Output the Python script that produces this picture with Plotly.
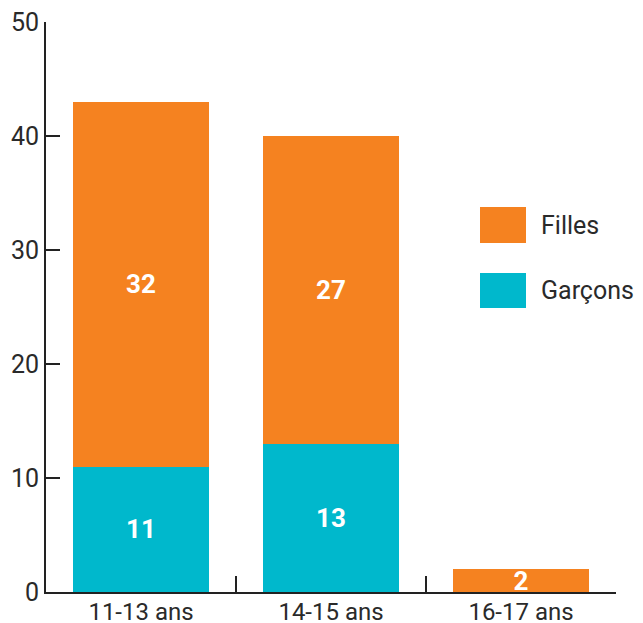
import plotly.graph_objects as go

categories = ["11-13 ans", "14-15 ans", "16-17 ans"]
garcons = [11, 13, 0]
filles = [32, 27, 2]
y_ticks = [0, 10, 20, 30, 40, 50]

orange = "#F58220"
teal = "#00B8CC"

def labels(vals):
    return [str(v) if v else "" for v in vals]

bar_font = dict(family="Roboto", size=26, color="white", weight="bold")

fig = go.Figure()
fig.add_trace(go.Bar(x=categories, y=garcons, name="Garçons", marker=dict(color=teal, line=dict(width=0)),
                     text=labels(garcons), textposition="inside", insidetextanchor="middle",
                     textangle=0, constraintext="none", textfont=bar_font, hoverinfo="skip"))
fig.add_trace(go.Bar(x=categories, y=filles, name="Filles", marker=dict(color=orange, line=dict(width=0)),
                     text=labels(filles), textposition="inside", insidetextanchor="middle",
                     textangle=0, constraintext="none", textfont=bar_font, hoverinfo="skip"))

# page has an 8px body margin; plot area in page pixels: x 46..616, y 22..592
fig.update_layout(
    barmode="stack",
    bargap=0.28,
    width=635, height=615,
    margin=dict(l=38, r=27, t=14, b=31),
    paper_bgcolor="white", plot_bgcolor="white",
    showlegend=False,
    font=dict(family="Roboto", color="#333333"),
    uniformtext=dict(minsize=8, mode="show"),
)
fig.update_xaxes(
    showline=True, linecolor="#222222", linewidth=2,
    ticks="inside", ticklen=16, tickwidth=2, tickcolor="#222222",
    tickson="boundaries", showgrid=False, automargin=False,
    ticklabeloverflow="allow", ticklabelstandoff=-3,
    tickfont=dict(family="Roboto", size=24, color="#2a2a2a"),
)
fig.update_yaxes(
    range=[0, 50], tickvals=y_ticks,
    showline=True, linecolor="#222222", linewidth=2,
    ticks="inside", ticklen=14, tickwidth=2, tickcolor="#222222",
    showgrid=False, zeroline=False, automargin=False,
    ticklabeloverflow="allow",
    tickfont=dict(family="Roboto", size=25, color="#2a2a2a"),
)

# Legend drawn manually (large swatches), positions in page pixels
legend_items = [("Filles", orange, 207, 243), ("Garçons", teal, 273, 308)]
for name, color, y0, y1 in legend_items:
    fig.add_shape(type="rect", xref="paper", yref="paper",
                  x0=(480 - 46) / 570, x1=(526 - 46) / 570,
                  y0=(592 - y1) / 570, y1=(592 - y0) / 570,
                  fillcolor=color, line=dict(width=0))
    fig.add_annotation(xref="paper", yref="paper", x=(539 - 46) / 570, y=(592 - (y0 + y1) / 2) / 570,
                       text=name, showarrow=False, xanchor="left", yanchor="middle",
                       font=dict(family="Roboto", size=25, color="#2a2a2a"))

fig.write_html("out.html")
